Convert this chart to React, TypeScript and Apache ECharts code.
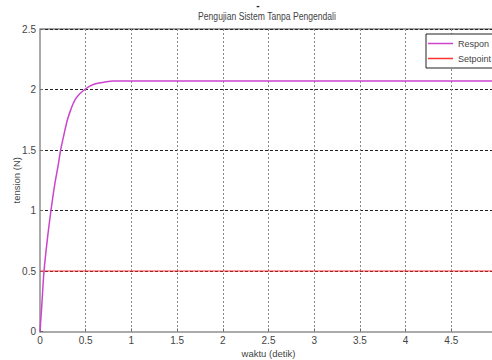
import React, { useEffect, useRef } from "react";
import * as echarts from "echarts";

const titleText = "Pengujian Sistem Tanpa Pengendali";
const xName = "waktu (detik)";
const yName = "tension (N)";
const seriesNames = ["Respon", "Setpoint"];
const seriesColors = ["#cc44cc", "#ff3333"];
const time = [0, 0.02, 0.044, 0.08, 0.12, 0.16, 0.2, 0.226, 0.26, 0.3, 0.34, 0.38, 0.43, 0.49, 0.55, 0.62, 0.7, 0.8, 0.9, 1.0, 5];
const respon = [0, 0.22, 0.5, 0.76, 1.0, 1.21, 1.38, 1.5, 1.62, 1.75, 1.84, 1.91, 1.96, 2.0, 2.03, 2.05, 2.06, 2.07, 2.07, 2.07, 2.07];
const setpointTime = [0, 5];
const setpoint = [0.5, 0.5];

const FONT = "'Liberation Sans', Arial, sans-serif";

export default function App() {
  const ref = useRef<HTMLDivElement>(null);
  useEffect(() => {
    if (!ref.current) return;
    const chart = echarts.init(ref.current, null, { renderer: "svg" });
    chart.setOption({
      animation: false,
      backgroundColor: "#fff",
      textStyle: { fontFamily: FONT },
      graphic: [
        { type: "text", x: 267, y: 17, scaleX: 0.86, style: { text: titleText, fontFamily: FONT, fontSize: 10, fill: "#444", align: "center", verticalAlign: "middle" } },
        { type: "text", x: 258, y: 0, style: { text: "-", fontFamily: FONT, fontSize: 10, fontWeight: "bold", fill: "#222", align: "center", verticalAlign: "top" } },
      ],
      legend: {
        orient: "vertical",
        left: 426,
        top: 34,
        data: seriesNames.map((n, i) => ({ name: n, itemStyle: { color: seriesColors[i] } })),
        icon: "rect",
        backgroundColor: "#fff",
        borderColor: "#222",
        borderWidth: 1,
        padding: [3, 40, 3, 2],
        itemGap: 2,
        itemWidth: 25,
        itemHeight: 1.5,
        textStyle: { fontFamily: FONT, fontSize: 9, color: "#444", lineHeight: 13 },
      },
      grid: {
        left: 40,
        top: 29,
        width: 457,
        height: 302.5,
        outerBoundsMode: "none",
        containLabel: false,
        show: true,
        borderColor: "#444",
        borderWidth: 1,
        backgroundColor: "#fff",
      },
      xAxis: {
        type: "value",
        min: 0,
        max: 5,
        interval: 0.5,
        name: xName,
        nameLocation: "middle",
        nameGap: 17,
        nameMoveOverlap: false,
        nameTextStyle: { fontFamily: FONT, fontSize: 9.5, color: "#444" },
        axisLine: { show: true, lineStyle: { color: "#aaa", width: 2 } },
        axisTick: { show: true, inside: true, length: 3, lineStyle: { color: "#666" } },
        axisLabel: { fontFamily: FONT, fontSize: 10, color: "#444", margin: 4, showMaxLabel: false },
        splitLine: { show: true, lineStyle: { color: "#888", type: [2, 2], width: 1 } },
      },
      yAxis: {
        type: "value",
        min: 0,
        max: 2.5,
        interval: 0.5,
        name: yName,
        nameLocation: "middle",
        nameGap: 19,
        nameMoveOverlap: false,
        nameTextStyle: { fontFamily: FONT, fontSize: 9.5, color: "#444" },
        axisLine: { show: true, lineStyle: { color: "#aaa", width: 2 } },
        axisTick: { show: true, inside: true, length: 3, lineStyle: { color: "#666" } },
        axisLabel: { fontFamily: FONT, fontSize: 10, color: "#444", margin: 4 },
        splitLine: { show: true, lineStyle: { color: "#222", type: [3, 2], width: 1 } },
      },
      series: [
        {
          name: seriesNames[0],
          type: "line",
          data: time.map((t, i) => [t, respon[i]]),
          smooth: 0.3,
          symbol: "none",
          lineStyle: { color: seriesColors[0], width: 1.5 },
          itemStyle: { color: seriesColors[0] },
          z: 3,
        },
        {
          name: seriesNames[1],
          type: "line",
          data: setpointTime.map((t, i) => [t, setpoint[i]]),
          symbol: "none",
          lineStyle: { color: seriesColors[1], width: 1.2 },
          itemStyle: { color: seriesColors[1] },
          z: 2,
        },
      ],
    });
    return () => chart.dispose();
  }, []);
  return <div ref={ref} style={{ width: 492, height: 360, position: "absolute", left: 0, top: 0 }} />;
}
